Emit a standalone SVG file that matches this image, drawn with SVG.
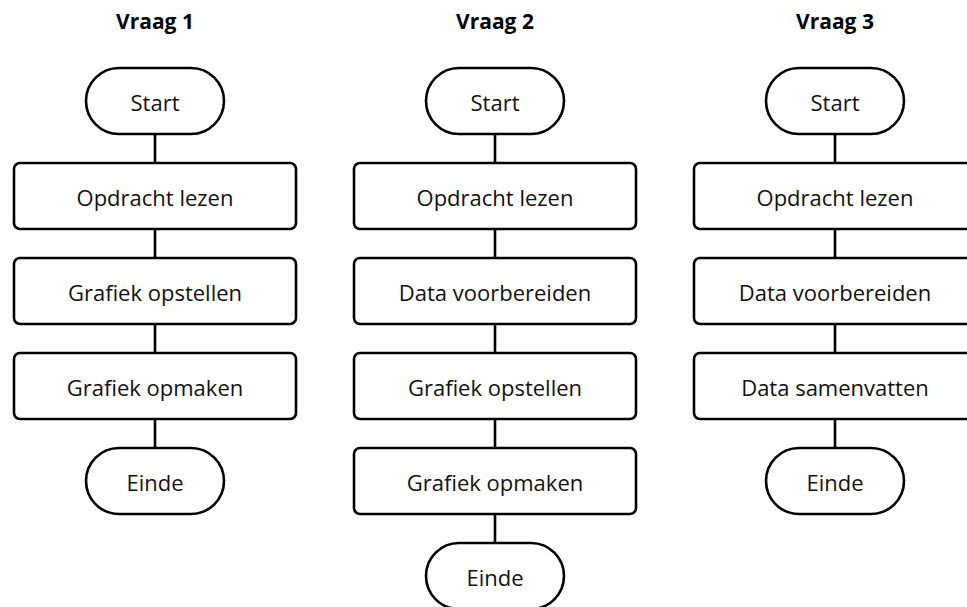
<svg xmlns="http://www.w3.org/2000/svg" width="967" height="607" viewBox="0 0 967 607">
<style>
.box{fill:#fff;stroke:#000;stroke-width:2.6}
.t{font-family:"Open Sans","Noto Sans",sans-serif;font-size:22px;fill:#111;text-anchor:middle}
.h{font-family:"Open Sans","Noto Sans",sans-serif;font-size:21px;font-weight:bold;fill:#000;text-anchor:middle}
.c{stroke:#000;stroke-width:2.6;fill:none}
</style>
<rect width="967" height="607" fill="#fff"/>
<g id="titles">
<text class="h" x="155" y="29">Vraag 1</text>
<text class="h" x="495" y="29">Vraag 2</text>
<text class="h" x="835" y="29">Vraag 3</text>
</g>
<g id="connectors">
<path class="c" d="M155 134V163M155 229V258M155 324V353M155 419V448"/>
<path class="c" d="M495 134V163M495 229V258M495 324V353M495 419V448M495 514V543"/>
<path class="c" d="M835 134V163M835 229V258M835 324V353M835 419V448"/>
</g>
<g id="q1-start"><rect class="box" x="86" y="68" width="138" height="66" rx="33"/><text class="t" x="155" y="111">Start</text></g>
<g id="q1-lezen"><rect class="box" x="14" y="163" width="282" height="66" rx="6"/><text class="t" x="155" y="206">Opdracht lezen</text></g>
<g id="q1-opstellen"><rect class="box" x="14" y="258" width="282" height="66" rx="6"/><text class="t" x="155" y="301">Grafiek opstellen</text></g>
<g id="q1-opmaken"><rect class="box" x="14" y="353" width="282" height="66" rx="6"/><text class="t" x="155" y="396">Grafiek opmaken</text></g>
<g id="q1-einde"><rect class="box" x="86" y="448" width="138" height="66" rx="33"/><text class="t" x="155" y="491">Einde</text></g>

<g id="q2-start"><rect class="box" x="426" y="68" width="138" height="66" rx="33"/><text class="t" x="495" y="111">Start</text></g>
<g id="q2-lezen"><rect class="box" x="354" y="163" width="282" height="66" rx="6"/><text class="t" x="495" y="206">Opdracht lezen</text></g>
<g id="q2-data"><rect class="box" x="354" y="258" width="282" height="66" rx="6"/><text class="t" x="495" y="301">Data voorbereiden</text></g>
<g id="q2-opstellen"><rect class="box" x="354" y="353" width="282" height="66" rx="6"/><text class="t" x="495" y="396">Grafiek opstellen</text></g>
<g id="q2-opmaken"><rect class="box" x="354" y="448" width="282" height="66" rx="6"/><text class="t" x="495" y="491">Grafiek opmaken</text></g>
<g id="q2-einde"><rect class="box" x="426" y="543" width="138" height="66" rx="33"/><text class="t" x="495" y="586">Einde</text></g>

<g id="q3-start"><rect class="box" x="766" y="68" width="138" height="66" rx="33"/><text class="t" x="835" y="111">Start</text></g>
<g id="q3-lezen"><rect class="box" x="694" y="163" width="282" height="66" rx="6"/><text class="t" x="835" y="206">Opdracht lezen</text></g>
<g id="q3-data"><rect class="box" x="694" y="258" width="282" height="66" rx="6"/><text class="t" x="835" y="301">Data voorbereiden</text></g>
<g id="q3-samenvatten"><rect class="box" x="694" y="353" width="282" height="66" rx="6"/><text class="t" x="835" y="396">Data samenvatten</text></g>
<g id="q3-einde"><rect class="box" x="766" y="448" width="138" height="66" rx="33"/><text class="t" x="835" y="491">Einde</text></g>
</svg>
